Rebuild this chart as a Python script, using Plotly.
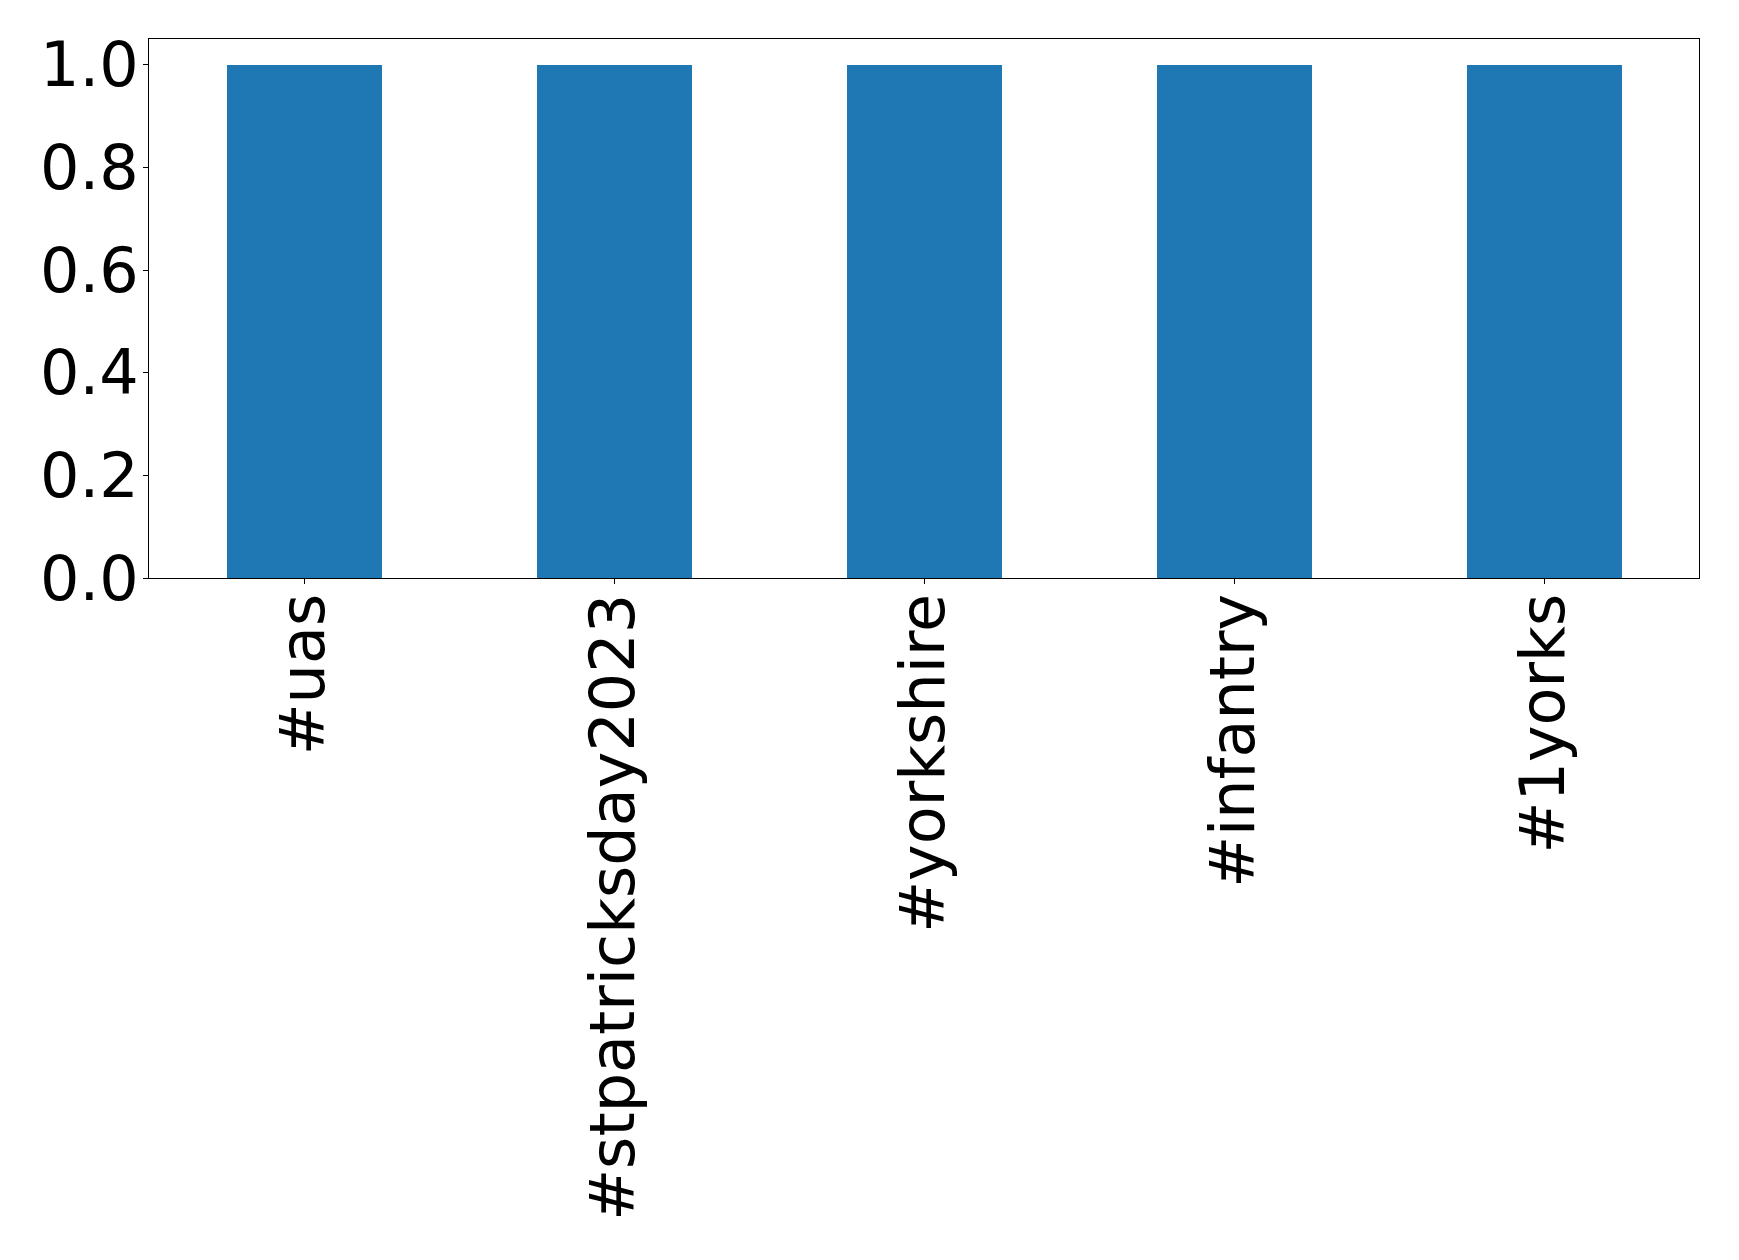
import plotly.graph_objects as go

categories = ["#uas", "#stpatricksday2023", "#yorkshire", "#infantry", "#1yorks"]
values = [1, 1, 1, 1, 1]
y_ticks = [0.0, 0.2, 0.4, 0.6, 0.8, 1.0]
y_tick_labels = ["0.0", "0.2", "0.4", "0.6", "0.8", "1.0"]

fig = go.Figure(
    go.Bar(x=categories, y=values, width=0.5, marker=dict(color="#1f77b4", line=dict(width=0)))
)

font = dict(family="DejaVu Sans", size=62, color="black")

fig.update_layout(
    width=1731,
    height=1252,
    margin=dict(l=141, r=40, t=31, b=682, autoexpand=False),
    paper_bgcolor="white",
    plot_bgcolor="white",
    showlegend=False,
    bargap=0,
)
fig.update_xaxes(
    range=[-0.5, 4.5],
    tickangle=-90,
    tickfont=font,
    ticks="outside",
    ticklen=5,
    tickwidth=1,
    tickcolor="black",
    ticklabelstandoff=-15,
    showline=True,
    linecolor="black",
    linewidth=1,
    mirror=True,
    showgrid=False,
    zeroline=False,
    automargin=False,
)
fig.update_yaxes(
    range=[0, 1.05],
    tickvals=y_ticks,
    ticktext=y_tick_labels,
    tickfont=font,
    ticks="outside",
    ticklen=5,
    tickwidth=1,
    tickcolor="black",
    ticklabelstandoff=-8,
    showline=True,
    linecolor="black",
    linewidth=1,
    mirror=True,
    showgrid=False,
    zeroline=False,
    automargin=False,
)

fig.write_html("out.html")
